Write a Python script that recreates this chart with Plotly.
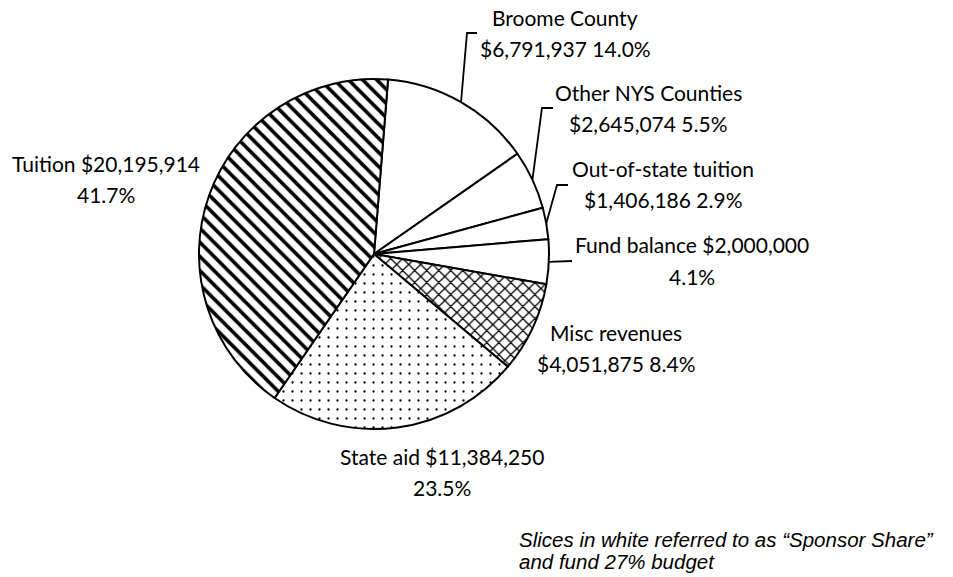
import math
import plotly.graph_objects as go

# ---------------- data ----------------
labels = ["Broome County", "Other NYS Counties", "Out-of-state tuition",
          "Fund balance", "Misc revenues", "State aid", "Tuition"]
values = [6791937, 2645074, 1406186, 2000000, 4051875, 11384250, 20195914]
note_lines = ["Slices in white referred to as \u201cSponsor Share\u201d",
              "and fund 27% budget"]

# ---------------- styling / layout ----------------
W, H = 953, 577
CX, CY, R = 374, 254, 175          # pie centre / radius in pixels
ROTATION = 4.6
shapes_pat = ["", "", "", "", "x", ".", "\\"]
sizes_pat = [8, 8, 8, 8, 8.5, 9, 10]
solid_pat = [0.2, 0.2, 0.2, 0.2, 0.28, 0.05, 0.36]
# whether the line break comes right after the name
break_after_name = [True, True, True, False, True, False, False]
# label line-1 centre (x, y) in px
label_pos = [(565, 18), (648, 93), (663, 168), (692, 245), (616, 332), (442, 456), (106, 163)]
LINE_GAP = 31
# leader elbow + end points (px); None = no leader
leaders = [((467, 33), (477, 33)),
           ((542, 108), (553, 108)),
           ((557, 185), (568, 185)),
           (None, (572, 261)),
           None, None, None]

FONT = "Lato"
FONT_SIZE = 21


def px(x):
    return x / W


def py(y):
    return 1 - y / H


total = sum(values)
fig = go.Figure(go.Pie(
    labels=labels, values=values, sort=False, direction="clockwise",
    rotation=ROTATION, textinfo="none", hoverinfo="label+value+percent",
    showlegend=False,
    domain=dict(x=[px(CX - R), px(CX + R)], y=[py(CY + R), py(CY - R)]),
    marker=dict(colors=["white"] * len(values),
                line=dict(color="black", width=2),
                pattern=dict(shape=shapes_pat, size=sizes_pat, solidity=solid_pat,
                             fgcolor="black", bgcolor="white", fillmode="replace")),
))

annotations = []
shapes = []
cum = 0.0
for i, (lab, v) in enumerate(zip(labels, values)):
    pct = f"{v / total * 100:.1f}%"
    money = f"${v:,}"
    if break_after_name[i]:
        lines = [lab, f"{money} {pct}"]
    else:
        lines = [f"{lab} {money}", pct]
    x0, y0 = label_pos[i]
    for k, t in enumerate(lines):
        annotations.append(dict(x=px(x0), y=py(y0 + k * LINE_GAP), xref="paper", yref="paper",
                                text=t, showarrow=False, xanchor="center", yanchor="middle",
                                font=dict(family=FONT, size=FONT_SIZE, color="black")))
    mid = math.radians(ROTATION + (cum + v / 2) / total * 360)
    cum += v
    if leaders[i] is not None:
        sx, sy = CX + R * math.sin(mid), CY - R * math.cos(mid)
        elbow, end = leaders[i]
        pts = [(sx, sy)] + ([elbow] if elbow else []) + [end]
        path = "M " + " L ".join(f"{px(a):.5f},{py(b):.5f}" for a, b in pts)
        shapes.append(dict(type="path", path=path, xref="paper", yref="paper",
                           line=dict(color="black", width=1.8)))

for k, t in enumerate(note_lines):
    annotations.append(dict(x=px(517), y=py(539 + k * 22), xref="paper", yref="paper",
                            text=f"<i>{t}</i>", showarrow=False, xanchor="left", yanchor="middle",
                            font=dict(family="Liberation Sans", size=20.5, color="black")))

fig.update_layout(width=W, height=H, margin=dict(l=0, r=0, t=0, b=0),
                  paper_bgcolor="white", plot_bgcolor="white",
                  annotations=annotations, shapes=shapes)

fig.write_html("out.html")
